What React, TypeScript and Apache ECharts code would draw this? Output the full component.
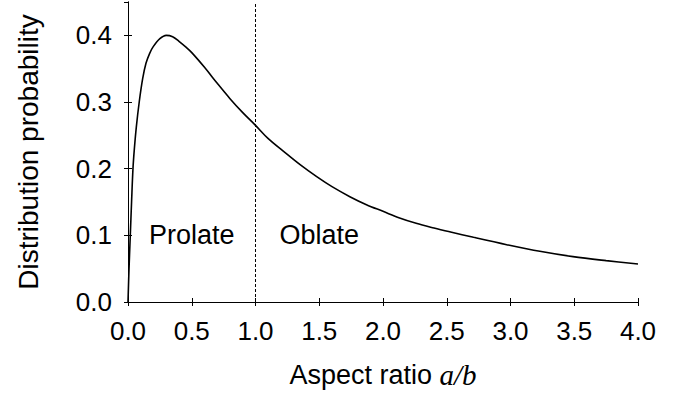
import React, { useEffect, useRef } from "react";
import * as echarts from "echarts";

// Aspect ratio a/b sampled along the curve
const aspectRatio = [
  0, 0.008, 0.018, 0.028, 0.039, 0.05, 0.065, 0.088, 0.115, 0.141, 0.17, 0.198,
  0.25, 0.3, 0.35, 0.4, 0.45, 0.5, 0.6, 0.7, 0.8, 0.9, 1.0, 1.1, 1.22, 1.35,
  1.48, 1.6, 1.74, 1.87, 2.0, 2.13, 2.26, 2.4, 2.53, 2.71, 2.97, 3.23, 3.49,
  3.75, 4.0,
];
// Distribution probability at each aspect ratio
const probability = [
  0, 0.05, 0.1, 0.15, 0.2, 0.23, 0.262, 0.3, 0.335, 0.358, 0.373, 0.383,
  0.395, 0.4, 0.398, 0.391, 0.383, 0.374, 0.352, 0.328, 0.305, 0.284, 0.265,
  0.245, 0.226, 0.206, 0.188, 0.173, 0.158, 0.146, 0.136, 0.126, 0.118, 0.111,
  0.105, 0.097, 0.086, 0.076, 0.068, 0.062, 0.057,
];
// Boundary between the two shape regimes
const boundary = 1.0;
// Region annotations: [x, y, text]
const regionLabels: [number, number, string][] = [
  [0.5, 0.1, "Prolate"],
  [1.5, 0.1, "Oblate"],
];

const SANS = "'Liberation Sans', Arial, Helvetica, sans-serif";

export default function App() {
  const ref = useRef<HTMLDivElement>(null);

  useEffect(() => {
    document.body.style.margin = "0";
    if (!ref.current) return;
    const chart = echarts.init(ref.current, null, { renderer: "svg" });
    const frameLine = { show: true, lineStyle: { color: "#000", width: 1 } };
    const tickIn = { show: true, inside: true, length: 4, lineStyle: { color: "#000", width: 1 } };
    const labelStyle = { color: "#000", fontSize: 26, fontFamily: SANS };

    chart.setOption({
      animation: false,
      backgroundColor: "#fff",
      grid: { left: 128, right: 51, top: 2, bottom: 92, containLabel: false },
      xAxis: [
        {
          type: "value",
          min: 0,
          max: 4,
          interval: 0.5,
          position: "bottom",
          axisLine: frameLine,
          axisTick: tickIn,
          splitLine: { show: false },
          axisLabel: {
            ...labelStyle,
            margin: 16,
            formatter: (v: number) => v.toFixed(1),
          },
          name: "{a|Aspect ratio }{b|a/b}",
          nameLocation: "middle",
          nameGap: 58,
          nameTextStyle: {
            rich: {
              a: { fontSize: 27, fontFamily: SANS, color: "#000" },
              b: {
                fontSize: 29,
                fontFamily: "'Liberation Serif', 'Times New Roman', serif",
                fontStyle: "italic",
                color: "#000",
              },
            },
          },
        },
        {
          type: "value",
          min: 0,
          max: 4,
          interval: 0.5,
          position: "top",
          axisLine: frameLine,
          axisTick: tickIn,
          axisLabel: { show: false },
          splitLine: { show: false },
        },
      ],
      yAxis: [
        {
          type: "value",
          min: 0,
          max: 0.45,
          interval: 0.1,
          position: "left",
          axisLine: frameLine,
          axisTick: tickIn,
          splitLine: { show: false },
          axisLabel: {
            ...labelStyle,
            margin: 16,
            showMaxLabel: false,
            formatter: (v: number) => (v > 0.41 ? "" : v.toFixed(1)),
          },
          name: "Distribution probability",
          nameLocation: "middle",
          nameGap: 86,
          nameTextStyle: { color: "#000", fontSize: 28, fontFamily: SANS },
        },
        {
          type: "value",
          min: 0,
          max: 0.45,
          interval: 0.1,
          position: "right",
          axisLine: frameLine,
          axisTick: tickIn,
          axisLabel: { show: false },
          splitLine: { show: false },
        },
      ],
      series: [
        {
          type: "line",
          xAxisIndex: 0,
          yAxisIndex: 0,
          data: aspectRatio.map((x, i) => [x, probability[i]]),
          smooth: 0.35,
          showSymbol: false,
          lineStyle: { color: "#000", width: 1.6 },
          markLine: {
            silent: true,
            symbol: "none",
            label: { show: false },
            lineStyle: { color: "#000", width: 1, type: [3, 2] },
            data: [{ xAxis: boundary }],
          },
        },
        {
          type: "scatter",
          xAxisIndex: 0,
          yAxisIndex: 0,
          symbolSize: 0,
          itemStyle: { color: "#000", opacity: 1 },
          data: regionLabels.map(([x, y, t]) => ({ value: [x, y], name: t })),
          label: {
            show: true,
            position: "inside",
            formatter: (p: any) => p.name,
            color: "#000",
            textBorderWidth: 0,
            textBorderColor: "transparent",
            fontSize: 27,
            fontFamily: SANS,
          },
        },
      ],
    });

    return () => chart.dispose();
  }, []);

  return <div ref={ref} style={{ width: 689, height: 394 }} />;
}
